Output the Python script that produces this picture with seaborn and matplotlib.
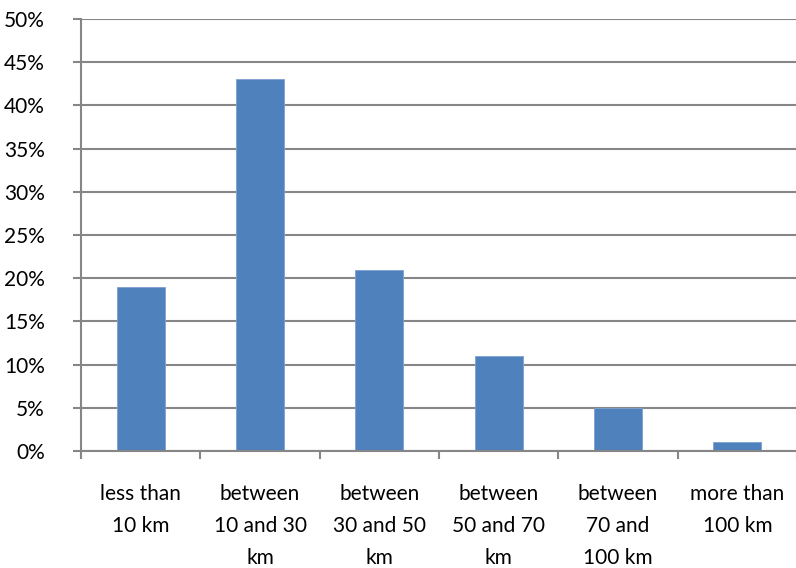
import matplotlib
matplotlib.use("Agg")
import matplotlib.pyplot as plt
import matplotlib.transforms as mtransforms
import seaborn as sns
import pandas as pd
from matplotlib.ticker import FixedLocator, PercentFormatter

categories = [
    "less than\n10 km",
    "between\n10 and 30\nkm",
    "between\n30 and 50\nkm",
    "between\n50 and 70\nkm",
    "between\n70 and\n100 km",
    "more than\n100 km",
]
shares = [19, 43, 21, 11, 5, 1]
y_ticks = list(range(0, 55, 5))

sns.set_theme(style="white")
plt.rcParams["font.family"] = ["Lato", "DejaVu Sans"]

df = pd.DataFrame({"distance": categories, "share": shares})

fig = plt.figure(figsize=(7.96, 5.68), dpi=100)
ax = fig.add_axes([81 / 796, 1 - 451 / 568, 716 / 796, 432 / 568])

grid_color = "#868686"
sns.barplot(data=df, x="distance", y="share", color="#4F81BD",
            width=0.4, saturation=1, ax=ax, zorder=3,
            edgecolor="#7EA1CF", linewidth=0.6)

ax.set_xlim(-0.5, len(categories) - 0.5)
ax.set_ylim(0, 50)
ax.set_yticks(y_ticks)
ax.yaxis.set_major_formatter(PercentFormatter(decimals=0))
ax.yaxis.grid(True, color=grid_color, linewidth=1.5, zorder=0)
ax.set_axisbelow(True)

ax.set_xlabel("")
ax.set_ylabel("")

# Category boundary ticks below the axis; labels drawn as centred text blocks
ax.xaxis.set_minor_locator(FixedLocator([i - 0.5 for i in range(len(categories) + 1)]))
ax.tick_params(axis="x", which="major", length=0, labelbottom=False)
ax.tick_params(axis="x", which="minor", bottom=True, length=6, width=1.5,
               color=grid_color)
ax.tick_params(axis="y", left=True, length=6, width=1.5, color=grid_color,
               pad=20, labelsize=15, labelcolor="black")

label_tf = mtransforms.blended_transform_factory(ax.transData, ax.transAxes)
label_tf = label_tf + mtransforms.ScaledTranslation(0, -24 / 72, fig.dpi_scale_trans)
for i, name in enumerate(categories):
    ax.text(i, 0, name, transform=label_tf, ha="center", va="top",
            fontsize=15, color="black", linespacing=1.75, multialignment="center")

for side in ("top", "right"):
    ax.spines[side].set_visible(False)
for side in ("left", "bottom"):
    ax.spines[side].set_color(grid_color)
    ax.spines[side].set_linewidth(1.5)
    ax.spines[side].set_zorder(4)

fig.savefig("out.png", dpi=100, facecolor="white")
